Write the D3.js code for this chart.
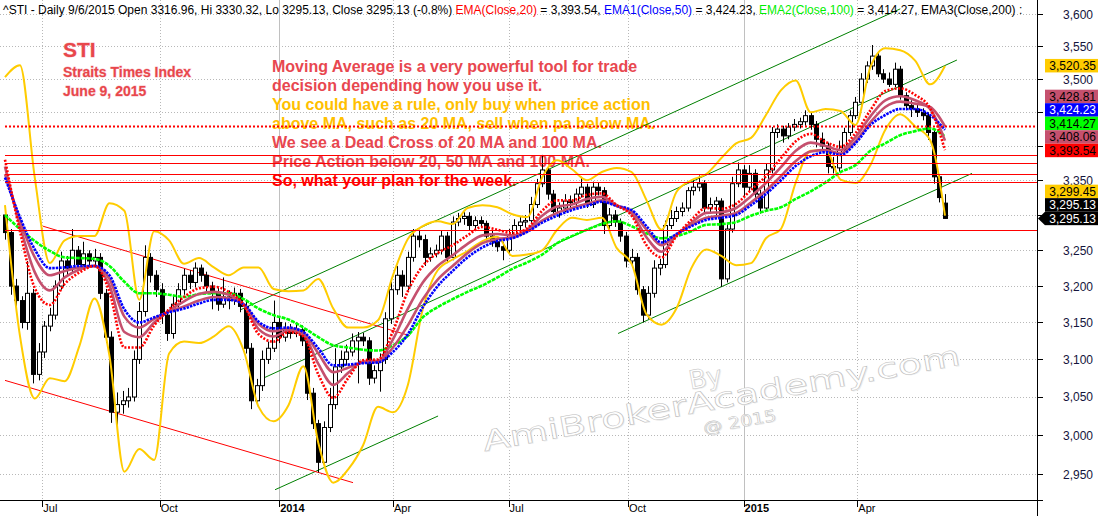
<!DOCTYPE html>
<html><head><meta charset="utf-8">
<script src="https://cdn.jsdelivr.net/npm/d3@7/dist/d3.min.js"></script>
<style>body{margin:0;background:#fff;overflow:hidden}svg{display:block}text{white-space:pre}</style>
</head><body><svg id="c" width="1098" height="516"></svg>
<script>
// ---------- DATA ----------
// candles: one candle per 3 trading days, bar index = 3*k
const opens=[3300,3275,3200,3180,3150,3190,3080,3110,3145,3160,3200,3235,3225,3250,3230,3245,3235,3240,3190,3130,3030,3040,3045,3050,3100,3165,3240,3215,3195,3160,3135,3175,3195,3215,3205,3225,3215,3200,3190,3175,3185,3180,3190,3172,3115,3045,3065,3100,3115,3150,3130,3140,3135,3140,3125,3055,3015,2965,3010,3040,3090,3100,3110,3125,3130,3125,3075,3085,3100,3155,3195,3215,3200,3240,3270,3265,3240,3245,3250,3270,3240,3290,3295,3298,3285,3292,3288,3270,3262,3255,3250,3272,3285,3290,3292,3315,3345,3365,3330,3305,3310,3320,3318,3330,3340,3315,3340,3335,3285,3300,3290,3270,3235,3240,3195,3160,3190,3225,3230,3285,3295,3305,3310,3335,3340,3345,3310,3315,3320,3210,3280,3345,3365,3340,3360,3330,3310,3365,3420,3425,3415,3428,3432,3436,3445,3432,3410,3400,3370,3368,3395,3420,3445,3465,3500,3520,3535,3508,3500,3492,3515,3475,3460,3455,3450,3445,3420,3355,3317];
const highs=[3312,3280,3210,3186,3235,3196,3122,3152,3170,3208,3248,3242,3280,3256,3262,3250,3252,3246,3196,3138,3056,3058,3062,3112,3178,3257,3246,3222,3204,3168,3186,3204,3224,3222,3233,3230,3220,3206,3198,3212,3194,3198,3196,3178,3122,3074,3112,3124,3180,3158,3150,3148,3150,3146,3130,3062,3020,3018,3062,3115,3112,3120,3135,3137,3136,3130,3092,3108,3164,3206,3228,3222,3248,3280,3279,3272,3254,3258,3278,3276,3298,3303,3304,3304,3298,3298,3292,3278,3268,3262,3280,3294,3298,3300,3326,3352,3387,3370,3336,3318,3330,3328,3338,3355,3345,3348,3346,3340,3310,3307,3295,3276,3252,3246,3200,3200,3236,3238,3292,3307,3312,3318,3340,3350,3357,3350,3325,3326,3324,3288,3355,3376,3372,3372,3366,3336,3375,3428,3432,3430,3434,3440,3442,3453,3450,3437,3420,3405,3384,3408,3427,3453,3473,3509,3527,3552,3540,3515,3510,3525,3520,3480,3468,3464,3456,3450,3425,3358,3330];
const lows=[3265,3188,3170,3142,3140,3068,3072,3102,3138,3154,3195,3215,3218,3222,3224,3226,3228,3182,3122,3016,3000,3028,3036,3044,3094,3158,3205,3185,3148,3125,3128,3168,3188,3196,3198,3206,3190,3168,3166,3170,3168,3174,3164,3108,3034,3038,3058,3094,3110,3122,3124,3128,3130,3118,3046,3008,2952,2958,3004,3034,3082,3092,3104,3068,3118,3066,3068,3057,3094,3148,3188,3185,3194,3234,3254,3228,3234,3240,3244,3232,3236,3284,3286,3278,3280,3282,3264,3255,3248,3236,3246,3268,3278,3282,3288,3310,3340,3322,3298,3296,3304,3310,3312,3325,3310,3310,3328,3273,3280,3283,3262,3226,3226,3188,3150,3155,3184,3215,3225,3280,3290,3298,3305,3328,3334,3302,3302,3300,3199,3205,3275,3340,3325,3333,3321,3302,3305,3360,3412,3405,3410,3422,3426,3430,3424,3398,3393,3360,3360,3362,3390,3415,3440,3460,3494,3514,3503,3494,3488,3488,3469,3453,3443,3443,3438,3409,3345,3318,3295];
const closes=[3275,3200,3180,3150,3190,3080,3110,3145,3160,3200,3235,3225,3250,3230,3245,3235,3240,3190,3130,3030,3040,3045,3050,3100,3165,3240,3215,3195,3160,3135,3175,3195,3215,3205,3225,3215,3200,3190,3175,3185,3180,3190,3172,3115,3045,3065,3100,3115,3150,3130,3140,3135,3140,3125,3055,3015,2965,3010,3040,3090,3100,3110,3125,3130,3125,3075,3085,3100,3155,3195,3215,3200,3240,3270,3265,3240,3245,3250,3270,3240,3290,3295,3298,3285,3292,3288,3270,3262,3255,3250,3272,3285,3290,3292,3315,3345,3365,3330,3305,3310,3320,3318,3330,3340,3315,3340,3335,3285,3300,3290,3270,3235,3240,3195,3160,3190,3225,3230,3285,3295,3305,3310,3335,3340,3345,3310,3315,3320,3210,3280,3345,3365,3340,3360,3330,3310,3365,3420,3425,3415,3428,3432,3436,3445,3432,3410,3400,3370,3368,3395,3420,3445,3465,3500,3520,3535,3508,3500,3492,3515,3475,3460,3455,3450,3445,3420,3355,3325,3295.13];
// indicator lines: one point every 8 bars
const ema20=[3380,3277,3197,3174,3203,3219,3228,3192,3116,3116,3146,3168,3185,3197,3199,3192,3174,3134,3124,3137,3131,3080,3049,3075,3099,3100,3138,3193,3228,3246,3257,3271,3283,3279,3274,3281,3306,3321,3321,3329,3331,3314,3299,3257,3240,3270,3293,3310,3309,3316,3336,3356,3382,3407,3418,3406,3399,3419,3453,3482,3486,3476,3456,3394];
const ema50=[3354,3297,3251,3225,3226,3228,3228,3215,3168,3150,3157,3164,3169,3176,3181,3181,3175,3151,3142,3143,3137,3115,3092,3093,3095,3096,3110,3134,3171,3200,3221,3240,3254,3263,3267,3276,3289,3299,3307,3313,3319,3313,3307,3284,3261,3273,3284,3293,3296,3300,3314,3330,3350,3371,3385,3391,3387,3404,3431,3446,3455,3455,3446,3424];
const ema100=[3300,3280,3263,3249,3240,3239,3238,3228,3206,3190,3190,3188,3185,3189,3190,3190,3182,3169,3160,3154,3143,3130,3119,3116,3113,3112,3119,3132,3157,3171,3182,3192,3201,3212,3224,3233,3244,3260,3270,3279,3287,3291,3284,3274,3267,3270,3277,3286,3287,3290,3299,3306,3311,3323,3334,3347,3362,3372,3393,3404,3416,3422,3426,3414];
const maFast=[3370,3285,3219,3194,3212,3223,3228,3201,3137,3130,3150,3166,3179,3189,3192,3188,3174,3141,3131,3139,3133,3094,3066,3082,3097,3098,3127,3169,3205,3228,3243,3259,3271,3273,3271,3279,3299,3312,3315,3323,3326,3314,3302,3268,3248,3271,3289,3303,3304,3310,3327,3346,3369,3393,3405,3400,3394,3413,3444,3468,3474,3468,3455,3408];
const maSlow=[3359,3293,3240,3215,3221,3226,3228,3210,3158,3143,3155,3165,3172,3180,3185,3183,3175,3148,3138,3142,3136,3108,3083,3089,3096,3097,3116,3146,3182,3209,3228,3246,3260,3266,3268,3277,3292,3303,3310,3316,3321,3313,3305,3279,3257,3272,3286,3296,3299,3303,3318,3335,3356,3378,3392,3394,3389,3407,3435,3458,3466,3463,3458,3429];
const bbUpper=[3503,3521,3353,3232,3264,3270,3270,3317,3306,3181,3277,3264,3231,3239,3226,3215,3226,3226,3196,3193,3194,3210,3169,3143,3143,3153,3215,3266,3284,3291,3287,3310,3314,3311,3301,3297,3354,3379,3366,3350,3362,3368,3362,3321,3279,3333,3350,3359,3382,3404,3412,3446,3483,3498,3450,3455,3452,3431,3518,3547,3544,3528,3492,3520];
const bbLower=[3314,3132,3048,3075,3071,3119,3183,3105,2953,2982,2968,3108,3124,3122,3131,3145,3112,3037,3018,3039,3091,2990,2939,2956,2987,3037,3030,3066,3168,3222,3237,3249,3263,3269,3242,3244,3250,3279,3296,3293,3296,3253,3231,3161,3147,3169,3225,3251,3242,3229,3232,3267,3280,3347,3393,3394,3351,3346,3372,3424,3447,3429,3409,3299];
// axis
const yTicks=[2950,3000,3050,3100,3150,3200,3250,3300,3350,3400,3450,3500,3550,3600];
const monthLabels=["Jul","Oct","2014","Apr","Jul","Oct","2015","Apr"];
const monthBars=[20,83,147,208,270,334,396,457];
// drawn levels and trend lines (bar index, price)
const supportLevels=[3387,3375,3359,3347,3279];
const dottedLevel=3429;
const greenLines=[[[126,3167],[480,3608]],[[139.4,3076],[510.4,3529]],[[144.8,2930],[232.2,3025]],[[328.7,3135],[518.5,3360]]];
const redLines=[[[20.4,3284],[217.1,3132]],[[0,3072],[186.6,2939]]];
// right side value tags
const tagValues=[3520.35,3428.81,3424.23,3414.27,3408.06,3393.54,3299.45,3295.13,3295.13];
const tagFill=["#ffcc00","#c5506e","#0000ff","#00ff00","#c5506e","#ff0000","#ffcc00","#000000","#000000"];
const tagInk=["#000","#000","#fff","#000","#000","#000","#000","#fff","#fff"];
// texts
const header=[["^STI - Daily 9/6/2015 Open 3316.96, Hi 3330.32, Lo 3295.13, Close 3295.13 (-0.8%) ","#000"],["EMA(Close,20)","#ff0000"],[" = 3,393.54, ","#000"],["EMA1(Close,50)","#0000ff"],[" = 3,424.23, ","#000"],["EMA2(Close,100)","#00ee00"],[" = 3,414.27, ","#000"],["EMA3(Close,200) :","#000"]];
const noteLines=[["Moving Average is a very powerful tool for trade","#e8474f"],["decision depending how you use it.","#e8474f"],["You could have a rule, only buy when price action","#ffc000"],["above MA, such as 20 MA, sell when pa below MA.","#ffc000"],["We see a Dead Cross of 20 MA and 100 MA.","#e8474f"],["Price Action below 20, 50 MA and 100 MA.","#e8474f"],["So, what your plan for the week.","#ff0000"]];
const titleLines=[["STI",21],["Straits Times Index",14],["June 9, 2015",14]];

// ---------- DRAW ----------
const svg=d3.select("#c");
const plotR=1037, plotB=500;
const x=d3.scaleLinear().domain([0,504]).range([5,945]);
const y=d3.scaleLog().domain([2950,3600]).range([474,14]);
svg.append("rect").attr("width",1098).attr("height",516).attr("fill","#fff");

// tag positions (stacked so they do not overlap)
const tagH=13.5; let prev=1e9; const tagY=[];
for(let i=tagValues.length-1;i>=0;i--){const p=Math.min(y(tagValues[i]),prev-tagH);tagY[i]=p;prev=p;}

// grid
const grid=svg.append("g");
grid.selectAll("line.h").data(yTicks).join("line").attr("class","h")
  .attr("x1",0).attr("x2",plotR).attr("y1",d=>Math.round(y(d))+0.5).attr("y2",d=>Math.round(y(d))+0.5)
  .attr("stroke","#b8b8b8").attr("stroke-dasharray","1,2");
grid.selectAll("line.v").data(monthBars).join("line").attr("class","v")
  .attr("x1",d=>Math.round(x(d))+0.5).attr("x2",d=>Math.round(x(d))+0.5).attr("y1",0).attr("y2",plotB)
  .attr("stroke",(d,i)=>/^\d/.test(monthLabels[i])?"#c0c0c0":"#b8b8b8")
  .attr("stroke-dasharray",(d,i)=>/^\d/.test(monthLabels[i])?null:"1,2");

// watermark
const wm=svg.append("g").attr("transform","translate(723,408) rotate(-10.3)")
  .attr("font-family","DejaVu Sans, sans-serif").attr("text-anchor","middle");
[[1,1,"#ececec",null],[0,0,"#ffffff","#bdbdbd"]].forEach(([dx,dy,f,s])=>{
  const g=wm.append("g").attr("transform",`translate(${dx},${dy})`).attr("fill",f).attr("stroke",s).attr("stroke-width",0.5);
  g.append("text").attr("x",-12).attr("y",-24).attr("font-size",26).text("By");
  g.append("text").attr("x",0).attr("y",0).attr("font-size",28).attr("textLength",485).attr("lengthAdjust","spacingAndGlyphs").text("AmiBrokerAcademy.com");
  g.append("text").attr("x",14).attr("y",22).attr("font-size",16).attr("textLength",74).attr("lengthAdjust","spacingAndGlyphs").text("@ 2015");
});

// title texts
svg.append("g").selectAll("text").data(titleLines).join("text")
  .attr("x",63).attr("y",(d,i)=>[57,77,96][i]).attr("font-family","Liberation Sans, Arial, sans-serif")
  .attr("font-weight","bold").attr("font-size",d=>d[1]).attr("fill","#e8474b")
  .attr("stroke","#f7c4cc").attr("stroke-width",0.8).attr("paint-order","stroke").text(d=>d[0]);
svg.append("g").selectAll("text").data(noteLines).join("text")
  .attr("x",272).attr("y",(d,i)=>72+i*19).attr("font-family","Liberation Sans, Arial, sans-serif")
  .attr("font-weight","bold").attr("font-size",16).attr("fill",d=>d[1]).text(d=>d[0]);

// trend lines
const seg=d3.line().x(d=>x(d[0])).y(d=>y(d[1]));
svg.append("g").selectAll("path").data(greenLines).join("path").attr("d",seg).attr("fill","none").attr("stroke","#008000").attr("stroke-width",1);
svg.append("g").selectAll("path").data(redLines).join("path").attr("d",seg).attr("fill","none").attr("stroke","#ff0000").attr("stroke-width",1);

// candles
const candles=closes.map((c,i)=>({b:i*3,o:opens[i],h:highs[i],l:lows[i],c}));
const cg=svg.append("g");
cg.selectAll("line").data(candles).join("line")
  .attr("x1",d=>Math.round(x(d.b))+0.5).attr("x2",d=>Math.round(x(d.b))+0.5)
  .attr("y1",d=>y(d.h)).attr("y2",d=>y(d.l)).attr("stroke","#000").attr("stroke-width",1);
cg.selectAll("rect").data(candles).join("rect")
  .attr("x",d=>Math.round(x(d.b))-1.5).attr("width",4)
  .attr("y",d=>y(Math.max(d.o,d.c))).attr("height",d=>Math.max(1,Math.abs(y(d.o)-y(d.c))))
  .attr("fill",d=>d.c>d.o?"#fff":"#000").attr("stroke","#000").attr("stroke-width",1);

// indicator lines
const ln=d3.line().x((d,i)=>x(i*8)).y(d=>y(d)).curve(d3.curveMonotoneX);
const series=[[bbUpper,"#ffcc00",2,null],[bbLower,"#ffcc00",2,null],[ema100,"#00ff00",2.6,"4,1"],[maSlow,"#c5506e",2.6,null],[maFast,"#c5506e",2.6,null],[ema50,"#0000ff",2.6,"2.5,1"],[ema20,"#ff0000",2.6,"2,1.6"]];
svg.append("g").selectAll("path").data(series).join("path")
  .attr("d",d=>ln(d[0])).attr("fill","none").attr("stroke",d=>d[1]).attr("stroke-width",d=>d[2]).attr("stroke-dasharray",d=>d[3]);

// horizontal levels
svg.append("g").selectAll("line").data(supportLevels).join("line")
  .attr("x1",x(0)).attr("x2",plotR).attr("y1",d=>Math.round(y(d))+0.5).attr("y2",d=>Math.round(y(d))+0.5)
  .attr("stroke","#ff0000").attr("stroke-width",1);
svg.append("line").attr("x1",x(0)).attr("x2",plotR).attr("y1",y(dottedLevel)).attr("y2",y(dottedLevel))
  .attr("stroke","#ff0000").attr("stroke-width",2).attr("stroke-dasharray","2,2");

// header
const ht=svg.append("text").attr("x",3).attr("y",14).attr("font-family","Liberation Sans, Arial, sans-serif").attr("font-size",12);
ht.selectAll("tspan").data(header).join("tspan").attr("fill",d=>d[1]).text(d=>d[0]);

// right axis
svg.append("rect").attr("x",plotR+1).attr("y",0).attr("width",61).attr("height",516).attr("fill","#fff");
svg.append("line").attr("x1",plotR+0.5).attr("x2",plotR+0.5).attr("y1",0).attr("y2",516).attr("stroke","#000");
const ra=svg.append("g");
ra.selectAll("line").data(yTicks).join("line").attr("x1",plotR).attr("x2",plotR+6)
  .attr("y1",d=>Math.round(y(d))+0.5).attr("y2",d=>Math.round(y(d))+0.5).attr("stroke","#000");
// tick labels that sit fully under a value tag are hidden, as in the original
const visibleTicks=yTicks.filter(v=>!tagY.some(t=>Math.abs(t-y(v))<tagH/2+1));
ra.selectAll("text").data(visibleTicks).join("text").attr("x",1093).attr("y",d=>y(d)+4.5)
  .attr("text-anchor","end").attr("font-family","Liberation Sans, Arial, sans-serif").attr("font-size",12)
  .attr("fill","#14143c").text(d=>d3.format(",")(d));

// bottom axis
svg.append("line").attr("x1",0).attr("x2",plotR+6).attr("y1",plotB+0.5).attr("y2",plotB+0.5).attr("stroke","#000");
const ba=svg.append("g");
ba.selectAll("line").data(monthBars).join("line").attr("x1",d=>Math.round(x(d))+0.5).attr("x2",d=>Math.round(x(d))+0.5)
  .attr("y1",plotB).attr("y2",plotB+7).attr("stroke","#000");
ba.selectAll("text").data(monthLabels).join("text").attr("x",(d,i)=>x(monthBars[i])+1).attr("y",512)
  .attr("font-family","Liberation Sans Narrow, Liberation Sans, Arial, sans-serif").attr("font-size",11)
  .attr("font-weight",d=>/^\d/.test(d)?"bold":"normal").attr("fill","#000").text(d=>d);

// value tags
const tg=svg.append("g");
tagValues.forEach((v,i)=>{
  tg.append("rect").attr("x",1045).attr("y",tagY[i]-tagH/2).attr("width",53).attr("height",tagH).attr("fill",tagFill[i]);
  tg.append("text").attr("x",1096).attr("y",tagY[i]+4.5).attr("text-anchor","end").attr("font-family","Liberation Sans, Arial, sans-serif")
    .attr("font-size",12).attr("fill",tagInk[i]).text(d3.format(",.2f")(v));
});
const last=tagValues.length-1;
tg.append("path").attr("d",`M1038,${tagY[last]} L1045,${tagY[last]-tagH/2} L1045,${tagY[last]+tagH/2} Z`).attr("fill","#000");
</script></body></html>
